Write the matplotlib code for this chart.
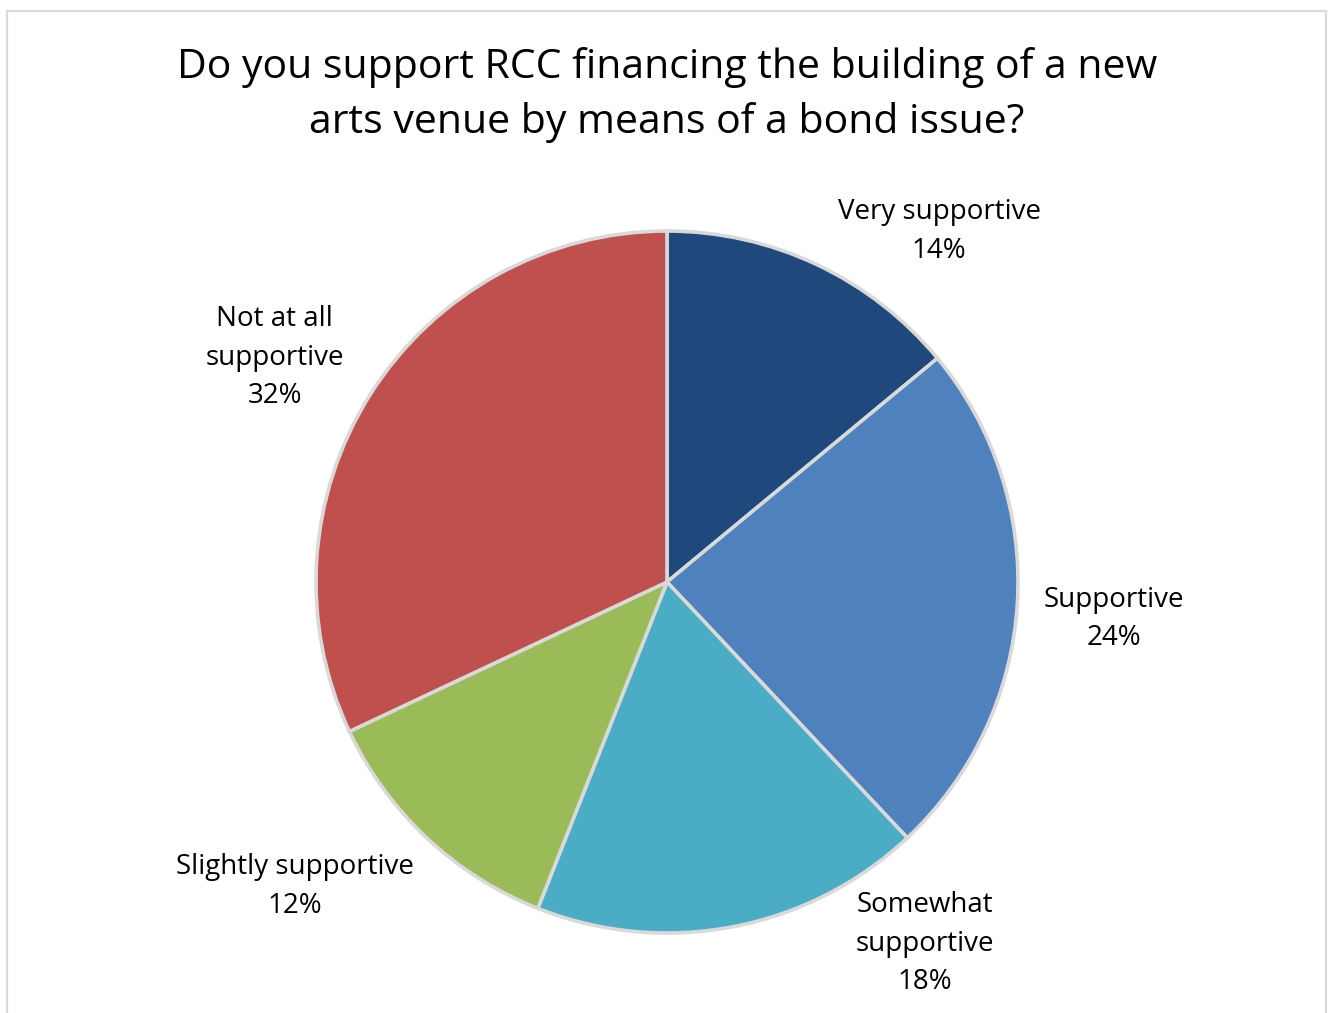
import matplotlib
matplotlib.use("Agg")
import matplotlib.pyplot as plt
from matplotlib.patches import Rectangle

TITLE = "Do you support RCC financing the building of a new\narts venue by means of a bond issue?"
CATEGORIES = ["Very supportive", "Supportive", "Somewhat\nsupportive",
              "Slightly supportive", "Not at all\nsupportive"]
SHARES = [14, 24, 18, 12, 32]
COLORS = ["#1F497D", "#4F81BD", "#4BACC6", "#9BBB59", "#C0504D"]

# label centres, in units of the pie radius relative to the pie centre
LABEL_POS = [(0.775, 0.998), (1.274, -0.106), (0.735, -1.031),
             (-1.060, -0.867), (-1.117, 0.639)]

W, H = 1328, 1013
CX, CY, R = 667, H - 582, 351

plt.rcParams["font.family"] = ["Open Sans", "DejaVu Sans"]

fig = plt.figure(figsize=(W / 100, H / 100), dpi=100)
ax = fig.add_axes([0, 0, 1, 1])

# chart area border, open at the bottom edge of the image
ax.add_patch(Rectangle((7, -20), 1319, H - 11 + 20, fill=False,
                       edgecolor="#D9D9D9", linewidth=1.6))

wedges, _ = ax.pie(SHARES, colors=COLORS, startangle=90, counterclock=False,
                   center=(CX, CY), radius=R, frame=True,
                   wedgeprops=dict(edgecolor="#D9D9D9", linewidth=2.6))
ax.set_xlim(0, W)
ax.set_ylim(0, H)
ax.set_aspect("equal")
ax.axis("off")

for name, share, (lx, ly) in zip(CATEGORIES, SHARES, LABEL_POS):
    ax.text(CX + lx * R, CY + ly * R, f"{name}\n{share}%", ha="center",
            va="center", fontsize=20, linespacing=1.5, color="#000000")

ax.text(W / 2 + 3, H - 95, TITLE, ha="center", va="center", fontsize=29.5,
        linespacing=1.44, color="#000000")

fig.savefig("out.png", dpi=100)
